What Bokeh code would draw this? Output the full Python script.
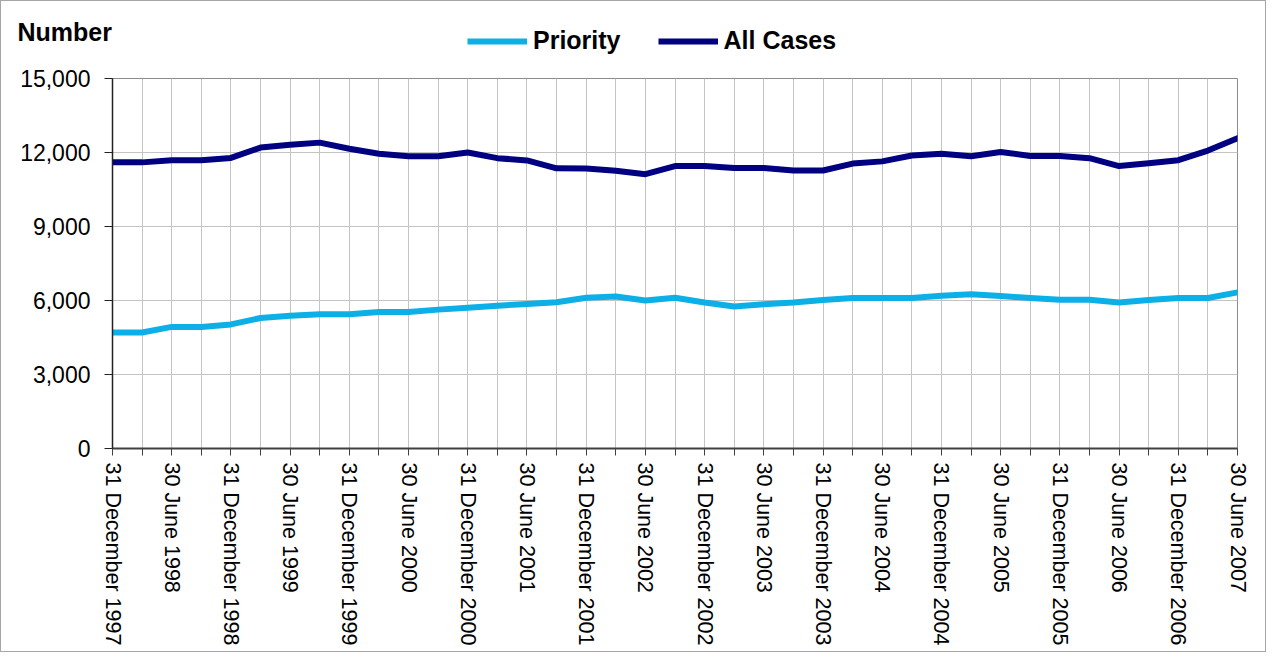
from bokeh.plotting import figure
from bokeh.layouts import column
from bokeh.models import Range1d, FixedTicker, Legend, LegendItem, NumeralTickFormatter, Label
from bokeh.core.properties import value
from bokeh.embed import file_html
from bokeh.resources import INLINE

# Quarter-end dates (x categories)
quarters = [
    "31 December 1997", "31 March 1998", "30 June 1998", "30 September 1998",
    "31 December 1998", "31 March 1999", "30 June 1999", "30 September 1999",
    "31 December 1999", "31 March 2000", "30 June 2000", "30 September 2000",
    "31 December 2000", "31 March 2001", "30 June 2001", "30 September 2001",
    "31 December 2001", "31 March 2002", "30 June 2002", "30 September 2002",
    "31 December 2002", "31 March 2003", "30 June 2003", "30 September 2003",
    "31 December 2003", "31 March 2004", "30 June 2004", "30 September 2004",
    "31 December 2004", "31 March 2005", "30 June 2005", "30 September 2005",
    "31 December 2005", "31 March 2006", "30 June 2006", "30 September 2006",
    "31 December 2006", "31 March 2007", "30 June 2007",
]

priority = [4700, 4700, 4930, 4930, 5030, 5290, 5380, 5440, 5440, 5530,
            5530, 5630, 5710, 5790, 5860, 5930, 6110, 6160, 6000, 6110,
            5920, 5760, 5850, 5920, 6020, 6100, 6100, 6100, 6190, 6250,
            6180, 6100, 6030, 6030, 5920, 6020, 6100, 6100, 6330]

all_cases = [11600, 11600, 11690, 11690, 11780, 12200, 12310, 12400, 12150, 11950,
             11850, 11850, 12000, 11770, 11680, 11360, 11350, 11260, 11120, 11450,
             11450, 11370, 11370, 11270, 11270, 11550, 11640, 11880, 11950, 11850,
             12020, 11860, 11860, 11770, 11450, 11560, 11690, 12080, 12580]

y_ticks = [0, 3000, 6000, 9000, 12000, 15000]
series_names = ["Priority", "All Cases"]
series_colors = ["#0DB0E6", "#000080"]
y_title = "Number"

x = list(range(len(quarters)))

FONT = "Liberation Sans"
W = 1264
HEAD_H = 60

# ---------- header strip: "Number" heading and the legend ----------
head = figure(width=W, height=HEAD_H, output_backend="svg", toolbar_location=None,
              x_axis_location=None, y_axis_location=None,
              x_range=Range1d(0, W), y_range=Range1d(0, HEAD_H),
              min_border=0, min_border_left=0, min_border_right=0,
              min_border_top=0, min_border_bottom=0,
              background_fill_color="white", border_fill_color="white")
head.frame_align = False
head.grid.visible = False
head.outline_line_color = None

# legend proxies: the same series, which fall outside this strip's range
h1 = head.line(x, priority, line_color=series_colors[0], line_width=6)
h2 = head.line(x, all_cases, line_color=series_colors[1], line_width=6)

legend = Legend(items=[LegendItem(label=value(series_names[0]), renderers=[h1]),
                       LegendItem(label=value(series_names[1]), renderers=[h2])],
                orientation="horizontal", location=(466, 6),
                label_text_font=FONT, label_text_font_style="bold",
                label_text_font_size="25px", label_text_color="black",
                glyph_width=60, glyph_height=24, label_height=24, label_standoff=6,
                spacing=37, padding=0, margin=0,
                border_line_alpha=0, background_fill_alpha=0)
head.add_layout(legend)

head.add_layout(Label(x=16, y=30, x_units="screen", y_units="screen", text=y_title,
                      text_font=FONT, text_font_style="bold", text_font_size="25px",
                      text_color="black", text_baseline="alphabetic"))

# ---------- main chart ----------
p = figure(width=W, height=590, output_backend="svg", toolbar_location=None,
           x_range=Range1d(0, len(quarters) - 1), y_range=Range1d(0, 15000),
           min_border_left=111, min_border_top=17, min_border_right=28, min_border_bottom=203,
           background_fill_color="white", border_fill_color="white")
p.frame_align = False

p.outline_line_color = "#8C8C8C"
p.outline_line_width = 1

p.ygrid.ticker = FixedTicker(ticks=y_ticks)
p.ygrid.grid_line_color = "#C4C4C4"
p.ygrid.grid_line_width = 1
p.xgrid.ticker = FixedTicker(ticks=x)
p.xgrid.grid_line_color = "#C4C4C4"
p.xgrid.grid_line_width = 1

p.yaxis.ticker = FixedTicker(ticks=y_ticks)
p.yaxis.formatter = NumeralTickFormatter(format="0,0")
p.yaxis.axis_line_color = "#222222"
p.yaxis.axis_line_width = 1.5
p.yaxis.major_tick_line_color = "#222222"
p.yaxis.major_tick_out = 8
p.yaxis.major_tick_in = 0
p.yaxis.minor_tick_line_color = None
p.yaxis.major_label_standoff = 14
p.yaxis.major_label_text_font = FONT
p.yaxis.major_label_text_font_size = "23px"
p.yaxis.major_label_text_color = "black"

p.xaxis.ticker = FixedTicker(ticks=x)
p.xaxis.major_label_overrides = {i: (quarters[i] if i % 2 == 0 else "") for i in x}
p.xaxis.major_label_orientation = "vertical"
p.xaxis.axis_line_color = "#404040"
p.xaxis.axis_line_width = 2
p.xaxis.major_tick_line_color = "#404040"
p.xaxis.major_tick_out = 7
p.xaxis.major_tick_in = 0
p.xaxis.minor_tick_line_color = None
p.xaxis.major_label_standoff = 7
p.xaxis.major_label_text_font = FONT
p.xaxis.major_label_text_font_size = "21.5px"
p.xaxis.major_label_text_color = "black"

p.line(x, priority, line_color=series_colors[0], line_width=6, line_join="round", line_cap="round")
p.line(x, all_cases, line_color=series_colors[1], line_width=6, line_join="round", line_cap="round")

layout = column(head, p, spacing=0)
layout.styles = {"border": "1px solid #A6A6A6"}

open("out.html", "w").write(file_html(layout, INLINE))
